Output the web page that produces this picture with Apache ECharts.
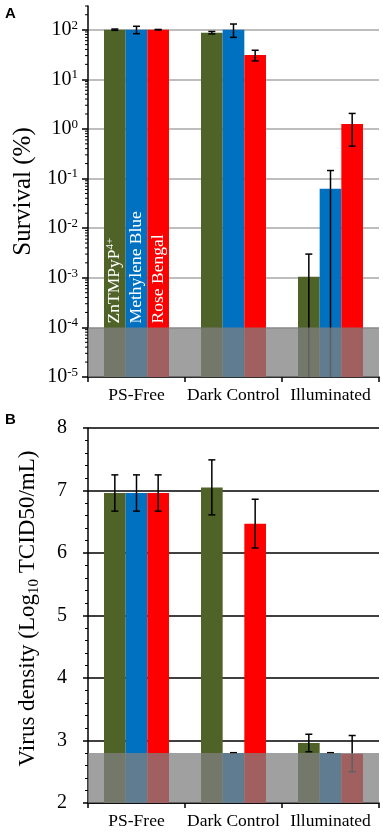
<!DOCTYPE html>
<html>
<head>
<meta charset="utf-8">
<script src="https://cdn.jsdelivr.net/npm/echarts@6/dist/echarts.min.js"></script>
<style>
  html, body { margin: 0; background: #fff; }
  #chart { width: 383px; height: 833px; }
</style>
</head>
<body>
<div id="chart"></div>
<script>
const categories = ['PS-Free', 'Dark Control', 'Illuminated']
const seriesNames = ['ZnTMPyP4+', 'Methylene Blue', 'Rose Bengal']
const colors = ['#4f6228', '#0070c0', '#ff0000']

// panel A, survival (%), log axis
const survivalZn = [100, 87, 0.00105]
const survivalMB = [100, 100, 0.062]
const survivalRB = [100, 31, 1.25]
const survivalZnErr = [3, 5, 0.00195]
const survivalMBErr = [17, 30, 0.083]
const survivalRBErr = [1, 7.5, 0.8]
const survivalDecades = [1e-5, 1e-4, 1e-3, 1e-2, 1e-1, 1, 10, 100]
const survivalMin = 1e-5
const survivalMax = 300
const survivalLimit = [1e-5, 1e-4]

// panel B, virus density (log10 TCID50/mL)
const densityZn = [6.96, 7.05, 2.96]
const densityMB = [6.96, 2.8, 2.8]
const densityRB = [6.96, 6.47, 2.79]
const densityZnErr = [0.29, 0.44, 0.14]
const densityMBErr = [0.29, 0.005, 0.005]
const densityRBErr = [0.29, 0.39, 0.29]
const densityLimit = [2, 2.8]

const serif = 'Liberation Serif'
const catGap = 0.33

const survival = [survivalZn, survivalMB, survivalRB]
const survivalErr = [survivalZnErr, survivalMBErr, survivalRBErr]
const density = [densityZn, densityMB, densityRB]
const densityErr = [densityZnErr, densityMBErr, densityRBErr]

const nameLabels = ['{a|ZnTMPyP}{b|4+}', '{a|Methylene Blue}', '{a|Rose Bengal}']

// log minor ticks, 2..9 inside every decade
const minorTicks = []
survivalDecades.forEach((d) => {
  for (let k = 2; k <= 9; k++) {
    if (k * d <= survivalMax) minorTicks.push(k * d)
  }
})

function errData (vals, errs) {
  const out = []
  vals.forEach((arr, k) => {
    arr.forEach((v, i) => out.push([i, k, v, errs[k][i]]))
  })
  return out
}

function renderError (isLog) {
  return (params, api) => {
    const cat = api.value(0)
    const k = api.value(1)
    const v = api.value(2)
    const e = api.value(3)
    const band = api.size([1, 0])[0]
    const barW = band * (1 - catGap) / 3
    const x = api.coord([cat, v])[0] + (k - 1) * barW
    let lo = v - e
    if (isLog && lo <= 0) lo = survivalMin / 10
    const yTop = api.coord([cat, v + e])[1]
    const yBot = api.coord([cat, lo])[1]
    const style = { stroke: '#000', lineWidth: 1.5 }
    return {
      type: 'group',
      children: [
        { type: 'line', shape: { x1: x, y1: yTop, x2: x, y2: yBot }, style },
        { type: 'line', shape: { x1: x - 3.5, y1: yTop, x2: x + 3.5, y2: yTop }, style },
        { type: 'line', shape: { x1: x - 3.5, y1: yBot, x2: x + 3.5, y2: yBot }, style }
      ]
    }
  }
}

function renderBand (params, api) {
  const cs = params.coordSys
  const y1 = api.coord([0, api.value(1)])[1]
  const y2 = api.coord([0, api.value(0)])[1]
  return {
    type: 'rect',
    shape: { x: cs.x, y: y1, width: cs.width, height: y2 - y1 },
    style: { fill: 'rgba(128,128,128,0.75)' }
  }
}

function renderMinor (params, api) {
  const x0 = params.coordSys.x
  const y = api.coord([0, api.value(0)])[1]
  return {
    type: 'line',
    shape: { x1: x0 - 3, y1: y, x2: x0, y2: y },
    style: { stroke: '#000', lineWidth: 1 }
  }
}

function survivalBars () {
  return survival.map((vals, k) => ({
    name: seriesNames[k],
    type: 'bar',
    xAxisIndex: 0,
    yAxisIndex: 0,
    barGap: '0%',
    barCategoryGap: (catGap * 100) + '%',
    itemStyle: { color: colors[k] },
    data: vals.map((v, i) => {
      if (i !== 0) return v
      const lv = Math.log10(v)
      const pct = (lv - Math.log10(survivalLimit[1])) / (lv - Math.log10(survivalMin)) * 100
      return {
        value: v,
        label: {
          show: true,
          position: ['50%', pct + '%'],
          offset: [4, 0],
          rotate: 90,
          align: 'left',
          verticalAlign: 'middle',
          overflow: 'none',
          formatter: nameLabels[k],
          color: '#fff',
          fontFamily: serif,
          fontSize: 17.5,
          rich: {
            a: { color: '#fff', fontFamily: serif, fontSize: 17.5, lineHeight: 20 },
            b: { color: '#fff', fontFamily: serif, fontSize: 11, verticalAlign: 'top', lineHeight: 20 }
          }
        }
      }
    })
  }))
}

function densityBars () {
  return density.map((vals, k) => ({
    name: seriesNames[k],
    type: 'bar',
    xAxisIndex: 1,
    yAxisIndex: 1,
    barGap: '0%',
    barCategoryGap: (catGap * 100) + '%',
    itemStyle: { color: colors[k] },
    data: vals
  }))
}

const catAxis = (gridIndex) => ({
  type: 'category',
  gridIndex,
  data: categories,
  axisLine: { lineStyle: { color: '#000', width: 1.5 } },
  axisTick: { show: true, length: 5, lineStyle: { color: '#000', width: 1.5 } },
  axisLabel: { interval: 0, margin: 9, color: '#000', fontFamily: serif, fontSize: 17.5 },
  splitLine: { show: false }
})

const chart = echarts.init(document.getElementById('chart'))

chart.setOption({
  animation: false,
  title: [
    { text: 'A', left: 5, top: 6, padding: 0, textStyle: { fontFamily: 'Liberation Sans', fontWeight: 'bold', fontSize: 15, color: '#000' } },
    { text: 'B', left: 5, top: 412, padding: 0, textStyle: { fontFamily: 'Liberation Sans', fontWeight: 'bold', fontSize: 15, color: '#000' } }
  ],
  grid: [
    { left: 88, right: 4, top: 6, bottom: 456 },
    { left: 88, right: 4, top: 428, bottom: 30 }
  ],
  xAxis: [catAxis(0), catAxis(1)],
  yAxis: [
    {
      type: 'log',
      gridIndex: 0,
      min: survivalMin,
      max: survivalMax,
      startValue: survivalMin,
      name: 'Survival (%)',
      nameLocation: 'middle',
      nameGap: 41,
      nameTextStyle: { fontFamily: serif, fontSize: 25, color: '#000' },
      axisLine: { show: true, lineStyle: { color: '#000', width: 1.5 } },
      axisTick: { show: true, length: 6, lineStyle: { color: '#000', width: 1.5 } },
      axisLabel: {
        margin: 10,
        showMaxLabel: false,
        formatter: (val) => {
          const lv = Math.log10(val)
          if (Math.abs(lv - Math.round(lv)) > 0.01) return ''
          return '{b|10}{s|' + Math.round(lv) + '}'
        },
        rich: {
          b: { fontFamily: serif, fontSize: 20, color: '#000', lineHeight: 22 },
          s: { fontFamily: serif, fontSize: 13, color: '#000', verticalAlign: 'top', lineHeight: 22 }
        }
      },
      splitLine: { show: true, showMaxLine: false, lineStyle: { color: '#a9a9a9', width: 1.5 } }
    },
    {
      type: 'value',
      gridIndex: 1,
      min: 2,
      max: 8,
      interval: 1,
      name: 'Virus density (Log{sub|10} TCID50/mL)',
      nameLocation: 'middle',
      nameGap: 46,
      nameTextStyle: {
        fontFamily: serif,
        fontSize: 23,
        color: '#000',
        lineHeight: 28,
        padding: [0, 0, 0, 14],
        rich: { sub: { fontFamily: serif, fontSize: 15, color: '#000', verticalAlign: 'bottom', lineHeight: 15 } }
      },
      axisLine: { show: true, lineStyle: { color: '#000', width: 1.5 } },
      axisTick: { show: true, length: 5, lineStyle: { color: '#000', width: 1.5 } },
      minorTick: { show: true, splitNumber: 5, length: 3, lineStyle: { color: '#000', width: 1 } },
      axisLabel: { margin: 21, color: '#000', fontFamily: serif, fontSize: 20 },
      splitLine: { show: true, lineStyle: { color: '#000', width: 1.5 } }
    }
  ],
  series: [
    ...survivalBars(),
    {
      type: 'custom',
      xAxisIndex: 0,
      yAxisIndex: 0,
      clip: true,
      z: 3,
      renderItem: renderError(true),
      data: errData(survival, survivalErr)
    },
    {
      type: 'custom',
      xAxisIndex: 0,
      yAxisIndex: 0,
      z: 10,
      silent: true,
      renderItem: renderBand,
      data: [survivalLimit]
    },
    {
      type: 'custom',
      xAxisIndex: 0,
      yAxisIndex: 0,
      z: 10,
      silent: true,
      renderItem: renderMinor,
      data: minorTicks.map((v) => [v])
    },
    ...densityBars(),
    {
      type: 'custom',
      xAxisIndex: 1,
      yAxisIndex: 1,
      clip: true,
      z: 3,
      renderItem: renderError(false),
      data: errData(density, densityErr)
    },
    {
      type: 'custom',
      xAxisIndex: 1,
      yAxisIndex: 1,
      z: 10,
      silent: true,
      renderItem: renderBand,
      data: [densityLimit]
    }
  ]
})
</script>
</body>
</html>
